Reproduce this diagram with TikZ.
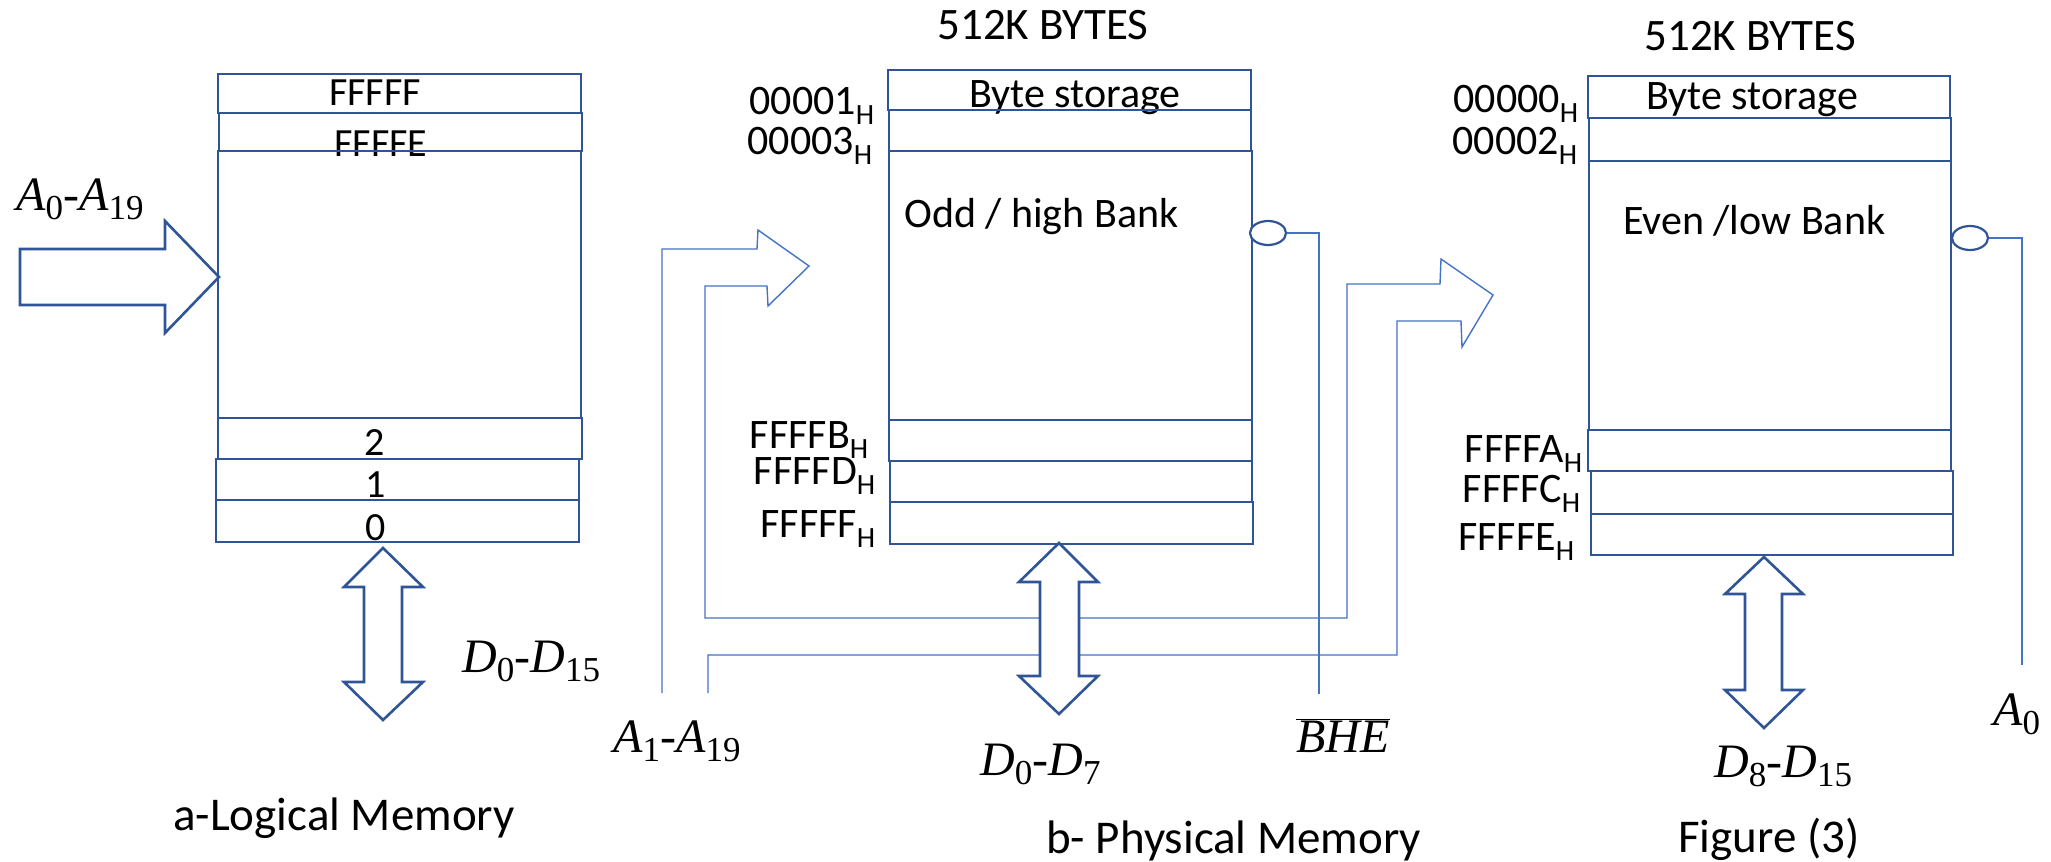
\documentclass[tikz,border=0pt]{standalone}
\usepackage{fontspec}
\usetikzlibrary{shapes.geometric}
\setmainfont{Carlito}
\newfontfamily\mfont{Liberation Serif}
\definecolor{boxblue}{RGB}{47,85,151}
\definecolor{busblue}{RGB}{68,114,196}
\newcommand{\sig}[2]{\textit{#1}\raisebox{-0.2em}{\fontsize{35}{40}\selectfont #2}}
\newcommand{\hx}[2]{#1\textsubscript{#2}}
\begin{document}
\begin{tikzpicture}[x=1pt,y=-1pt,
  cell/.style={draw=boxblue,line width=2.6pt},
  bus/.style={draw=busblue,line width=1.4pt,line join=miter},
  dbus/.style={draw=boxblue,line width=2.6pt,fill=white,line join=miter},
  abus/.style={draw=boxblue,line width=2.6pt,fill=white,line join=miter},
  enab/.style={draw=boxblue,line width=2.2pt,fill=white,ellipse,minimum width=36pt,minimum height=24pt,inner sep=0pt},
  lbl/.style={font=\fontsize{42}{50}\selectfont,inner sep=0pt,anchor=base east},
  txt/.style={font=\fontsize{42}{50}\selectfont,inner sep=0pt,anchor=base},
  ttl/.style={font=\fontsize{45}{52}\selectfont,inner sep=0pt,anchor=base},
  txtl/.style={font=\fontsize{42}{50}\selectfont,inner sep=0pt,anchor=base west},
  num/.style={font=\fontsize{40}{48}\selectfont,inner sep=0pt,anchor=base},
  sigl/.style={font=\mfont\fontsize{48}{56}\selectfont,inner sep=0pt,anchor=base west},
  capt/.style={font=\fontsize{47}{54}\selectfont,inner sep=0pt,anchor=base west}]
\useasboundingbox (0,0) rectangle (2051,862);

% ---------- address bus loop (A1-A19) ----------
\coordinate (busL1) at (662,693);
\coordinate (busL2) at (708,693);
\draw[bus] (busL1) -- (662,249) -- (757,249) -- (758,230) -- (809,266)
  -- (768,306) -- (767,286) -- (705,286) -- (705,618) -- (1347,618)
  -- (1347,284) -- (1440,284) -- (1441,259) -- (1493,295) -- (1462,347)
  -- (1461,321) -- (1397,321) -- (1397,655) -- (708,655) -- (busL2);

% ---------- data bus arrows ----------
\draw[dbus] (383,548) -- (423,587) -- (402,587) -- (402,682) -- (423,682)
  -- (383,720) -- (344,682) -- (364,682) -- (364,587) -- (344,587) -- cycle;
\draw[dbus] (1059,543) -- (1098,582) -- (1079,582) -- (1079,676) -- (1098,676)
  -- (1059,714) -- (1019,676) -- (1040,676) -- (1040,582) -- (1019,582) -- cycle;
\draw[dbus] (1764,557) -- (1803,594) -- (1782,594) -- (1782,690) -- (1803,690)
  -- (1764,728) -- (1725,690) -- (1745,690) -- (1745,594) -- (1725,594) -- cycle;

% ---------- logical address arrow ----------
\draw[abus] (20,249) -- (165,249) -- (165,221) -- (219,277) -- (165,333)
  -- (165,305) -- (20,305) -- cycle;

% ---------- texts: logical memory ----------
\node[num] (lF) at (375,105) {FFFFF};
\node[num] (lE) at (381,156) {FFFFE};
\node[num] (l2) at (375,455) {2};
\node[num] (l1) at (376,497) {1};
\node[num] (l0) at (376,540) {0};

% ---------- texts: odd bank ----------
\node[ttl] (oT) at (1043,39) {512K BYTES};
\node[txt] (oB) at (1075,107) {Byte storage};
\node[txtl] (oN) at (904,227) {Odd / high Bank};
\node[lbl] (o1) at (875,114) {\hx{00001}{H}};
\node[lbl] (o3) at (873,154) {\hx{00003}{H}};
\node[lbl] (oFB) at (869,448) {\hx{FFFFB}{H}};
\node[lbl] (oFD) at (876,484) {\hx{FFFFD}{H}};
\node[lbl] (oFF) at (876,537) {\hx{FFFFF}{H}};

% ---------- texts: even bank ----------
\node[ttl] (eT) at (1750,50) {512K BYTES};
\node[txt] (eB) at (1752,109) {Byte storage};
\node[txtl] (eN) at (1623,234) {Even /low Bank};
\node[lbl] (e0) at (1579,112) {\hx{00000}{H}};
\node[lbl] (e2) at (1578,154) {\hx{00002}{H}};
\node[lbl] (eFA) at (1583,462) {\hx{FFFFA}{H}};
\node[lbl] (eFC) at (1581,502) {\hx{FFFFC}{H}};
\node[lbl] (eFE) at (1575,550) {\hx{FFFFE}{H}};

% ---------- memory cells ----------
\draw[cell] (218,74) rectangle (581,113);
\draw[cell] (219,113) rectangle (582,151);
\draw[cell] (218,151) rectangle (581,418);
\draw[cell] (218,418) rectangle (582,459);
\draw[cell] (216,459) rectangle (579,500);
\draw[cell] (216,500) rectangle (579,542);

\draw[cell] (888,70) rectangle (1251,110);
\draw[cell] (889,110) rectangle (1251,151);
\draw[cell] (889,151) rectangle (1252,420);
\draw[cell] (889,420) rectangle (1252,461);
\draw[cell] (890,461) rectangle (1252,502);
\draw[cell] (890,502) rectangle (1253,544);

\draw[cell] (1588,76) rectangle (1950,118);
\draw[cell] (1589,118) rectangle (1951,161);
\draw[cell] (1589,161) rectangle (1951,430);
\draw[cell] (1588,430) rectangle (1951,471);
\draw[cell] (1591,471) rectangle (1953,514);
\draw[cell] (1591,514) rectangle (1953,555);

% ---------- enable inputs ----------
\node[enab] (oC) at (1268,233) {};
\node[enab] (eC) at (1970,238) {};
\coordinate (bheEnd) at (1319,694);
\coordinate (a0End) at (2022,665);
\draw[bus] (oC.east) -- (1319,233) -- (bheEnd);
\draw[bus] (eC.east) -- (2022,238) -- (a0End);

% ---------- signal labels ----------
\node[sigl] (sA) at (16,210) {\sig{A}{0}-\sig{A}{19}};
\node[sigl] (sD) at (462,672) {\sig{D}{0}-\sig{D}{15}};
\node[sigl] (sA1) at (613,752) {\sig{A}{1}-\sig{A}{19}};
\node[sigl] (sD0) at (980,775) {\sig{D}{0}-\sig{D}{7}};
\node[sigl] (sB) at (1296,752) {$\overline{\hbox{\textit{BHE}}}$};
\node[sigl] (sD8) at (1714,777) {\sig{D}{8}-\sig{D}{15}};
\node[sigl] (sA0) at (1993,725) {\sig{A}{0}};

% ---------- captions ----------
\node[capt] (cA) at (173,830) {a-Logical Memory};
\node[capt] (cB) at (1046,853) {b- Physical Memory};
\node[capt] (cF) at (1678,852) {Figure (3)};
\end{tikzpicture}
\end{document}
